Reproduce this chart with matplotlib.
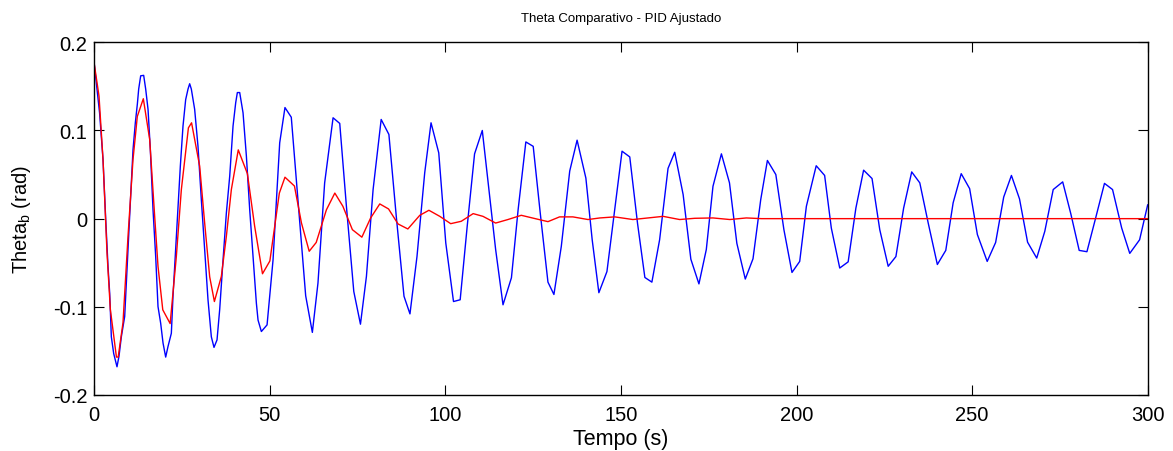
import matplotlib
matplotlib.use("Agg")
import matplotlib.pyplot as plt

plt.rcParams["font.family"] = ["Liberation Sans", "DejaVu Sans"]
plt.rcParams["axes.unicode_minus"] = False

# Pitch angle without tuning (blue)
t_original = [0.0, 1.5, 2.48, 3.24, 3.90, 4.38, 4.85, 5.52, 6.46, 7.03, 7.70, 8.65, 9.12,
              10.07, 11.02, 11.69, 12.26, 12.64, 13.21, 14.06, 14.63, 15.30, 15.96, 16.72,
              17.48, 18.14, 18.90, 19.57, 20.33, 20.99, 21.94, 22.41, 23.36, 24.50, 25.26,
              26.02, 26.69, 27.16, 27.63, 28.58, 29.53, 30.48, 31.43, 32.38, 33.33, 34.09,
              34.95, 35.71, 36.66, 37.61, 38.56, 39.51, 40.27, 40.74, 41.41, 42.36, 43.31,
              44.26, 45.21, 46.16, 46.63, 47.58, 49.20, 50.9, 52.8, 54.3, 56.1, 60.2, 62.1,
              63.7, 65.6, 68.0, 69.9, 71.8, 73.9, 75.8, 77.5, 79.4, 81.7, 83.9, 86.0, 88.2,
              89.9, 91.9, 94.1, 95.9, 98.1, 100.1, 102.3, 104.2, 106.2, 108.3, 110.5, 112.4,
              114.3, 116.4, 118.8, 120.7, 122.9, 125.0, 127.0, 129.2, 130.9, 133.0, 135.4,
              137.5, 140.0, 141.8, 143.7, 146.0, 148.2, 150.3, 152.5, 154.7, 156.8, 158.8,
              161.0, 163.4, 165.3, 167.7, 169.9, 172.2, 174.3, 176.2, 178.6, 180.9, 183.0,
              185.4, 187.6, 189.8, 191.7, 194.1, 196.4, 198.7, 200.9, 202.8, 205.6, 208.0,
              209.9, 212.3, 214.7, 216.9, 219.1, 221.5, 223.7, 226.1, 228.3, 230.5, 232.8,
              235.1, 237.5, 240.1, 242.5, 244.6, 246.9, 249.3, 251.5, 254.3, 256.7, 259.0,
              261.2, 263.5, 265.8, 268.4, 270.7, 273.1, 275.8, 278.1, 280.5, 282.7, 285.1,
              287.7, 290.0, 292.6, 294.9, 297.7, 300.0]
theta_original = [0.175, 0.12, 0.067, 0.0, -0.054, -0.0845, -0.134, -0.153, -0.168, -0.156,
                  -0.134, -0.111, -0.073, 0.003, 0.078, 0.109, 0.130, 0.147, 0.162, 0.1625,
                  0.147, 0.124, 0.078, 0.010, -0.043, -0.0997, -0.1186, -0.141, -0.157,
                  -0.145, -0.130, -0.088, -0.020, 0.0595, 0.105, 0.135, 0.147, 0.153, 0.147,
                  0.124, 0.082, 0.0216, -0.035, -0.092, -0.134, -0.146, -0.1375, -0.103,
                  -0.047, 0.0065, 0.048, 0.105, 0.1315, 0.143, 0.143, 0.120, 0.071, 0.010,
                  -0.043, -0.096, -0.115, -0.128, -0.1205, -0.047, 0.086, 0.126, 0.115,
                  -0.0875, -0.129, -0.073, 0.0405, 0.1144, 0.108, 0.014, -0.0826, -0.1197,
                  -0.0655, 0.033, 0.1125, 0.0955, 0.0026, -0.088, -0.108, -0.043, 0.052,
                  0.1087, 0.0746, -0.0276, -0.094, -0.092, -0.0087, 0.0735, 0.100, 0.033,
                  -0.035, -0.0977, -0.067, 0.010, 0.087, 0.082, 0.0065, -0.072, -0.086,
                  -0.0315, 0.054, 0.089, 0.046, -0.024, -0.084, -0.060, 0.010, 0.0765, 0.070,
                  -0.005, -0.0667, -0.072, -0.024, 0.057, 0.0753, 0.0273, -0.046, -0.074,
                  -0.035, 0.0367, 0.0735, 0.0406, -0.028, -0.0685, -0.0455, 0.0216, 0.066,
                  0.050, -0.0125, -0.061, -0.0485, 0.014, 0.060, 0.049, -0.0106, -0.056,
                  -0.049, 0.012, 0.055, 0.0455, -0.0125, -0.054, -0.043, 0.012, 0.053,
                  0.0406, -0.005, -0.052, -0.036, 0.018, 0.051, 0.034, -0.018, -0.0485,
                  -0.027, 0.0245, 0.049, 0.0224, -0.0267, -0.0447, -0.0144, 0.033, 0.0417,
                  0.0057, -0.036, -0.0375, -0.0006, 0.040, 0.033, -0.0106, -0.0394, -0.024,
                  0.0156]

# Pitch angle with the tuned PID (red)
t_pid = [0.0, 1.34, 2.48, 3.62, 4.57, 6.3, 6.8, 8.17, 9.6, 11.02, 12.25, 13.96, 15.77,
         17.19, 18.14, 19.5, 21.6, 23.36, 24.79, 26.8, 27.7, 30.01, 31.43, 32.86, 34.2,
         36.18, 37.61, 39.03, 41.0, 43.6, 45.67, 47.9, 50.0, 52.7, 54.3, 57.0, 59.0, 61.2,
         63.2, 66.1, 68.5, 70.8, 73.5, 76.2, 78.7, 81.3, 83.8, 86.5, 89.3, 92.7, 95.3, 98.4,
         101.5, 104.5, 107.9, 110.7, 114.3, 117.8, 121.6, 125.9, 129.2, 132.5, 136.3, 140.6,
         144.0, 148.2, 153.4, 162.0, 166.7, 171.0, 176.2, 181.0, 185.7, 190.0, 300.0]
theta_pid = [0.175, 0.139, 0.067, -0.039, -0.103, -0.157, -0.157, -0.118, -0.02, 0.067,
             0.116, 0.136, 0.0898, 0.0026, -0.054, -0.1034, -0.119, -0.043, 0.033, 0.103,
             0.1087, 0.0595, -0.005, -0.066, -0.094, -0.0655, -0.02, 0.033, 0.078, 0.051,
             -0.0087, -0.0625, -0.048, 0.029, 0.047, 0.037, -0.005, -0.037, -0.027, 0.010,
             0.029, 0.014, -0.0125, -0.021, 0.0008, 0.0167, 0.011, -0.006, -0.0117, 0.0038,
             0.0095, 0.0026, -0.0057, -0.003, 0.0057, 0.0026, -0.005, -0.001, 0.0038,
             -0.0003, -0.0034, 0.002, 0.002, -0.001, 0.0008, 0.002, -0.001, 0.0026, -0.001,
             0.0004, 0.0008, -0.001, 0.0008, 0.0, 0.0]

x_ticks = [0, 50, 100, 150, 200, 250, 300]
y_ticks = [-0.2, -0.1, 0, 0.1, 0.2]
y_tick_labels = ["-0.2", "-0.1", "0", "0.1", "0.2"]

fig = plt.figure(figsize=(11.73, 4.52), dpi=100)
ax = fig.add_axes([0.0804, 0.1239, 0.8980, 0.7803])

ax.plot(t_original, theta_original, color="#0000ff", lw=1.0)
ax.plot(t_pid, theta_pid, color="#ff0000", lw=1.0)

ax.set_xlim(0, 300)
ax.set_ylim(-0.2, 0.2)
ax.set_xticks(x_ticks)
ax.set_xticklabels([str(v) for v in x_ticks])
ax.set_yticks(y_ticks)
ax.set_yticklabels(y_tick_labels)

ax.tick_params(direction="in", length=7, width=0.8, labelsize=14.5, pad=5,
               top=True, right=True, colors="black")
ax.tick_params(axis="x", pad=7)
for s in ax.spines.values():
    s.set_linewidth(1.0)
    s.set_color("black")

ax.set_title("Theta Comparativo - PID Ajustado", fontsize=9.5, pad=15)
ax.set_xlabel("Tempo (s)", fontsize=15.5, labelpad=3)
ax.set_ylabel(r"Theta$_\mathregular{b}$ (rad)", fontsize=14.5, labelpad=14)

fig.savefig("out.png", dpi=100, facecolor="white")
